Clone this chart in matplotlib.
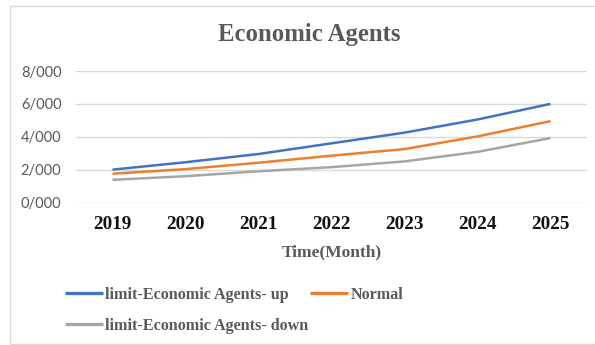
import matplotlib
matplotlib.use("Agg")
import matplotlib.pyplot as plt
from matplotlib.patches import Rectangle
from matplotlib.ticker import FuncFormatter

years = ["2019", "2020", "2021", "2022", "2023", "2024", "2025"]
limit_up = [2.00, 2.45, 2.95, 3.60, 4.25, 5.05, 6.00]
normal = [1.75, 2.03, 2.42, 2.85, 3.25, 4.02, 4.95]
limit_down = [1.38, 1.60, 1.90, 2.15, 2.50, 3.08, 3.92]
y_ticks = [0, 2, 4, 6, 8]

W, H = 595, 345
fig = plt.figure(figsize=(W / 100, H / 100), dpi=100)
fig.patch.set_facecolor("white")

# light chart-area border
fig.add_artist(Rectangle((10 / W, 1 - 344 / H), (W + 5 - 10) / W, (344 - 6) / H,
                         transform=fig.transFigure, fill=False,
                         edgecolor="#d9d9d9", linewidth=1.0))

ax = fig.add_axes([76 / W, 1 - 202.5 / H, (587 - 76) / W, (202.5 - 71) / H])
x = list(range(len(years)))
serif = "Liberation Serif"
grey_txt = "#595959"

l_up, = ax.plot(x, limit_up, color="#4472C4", lw=1.8, solid_capstyle="butt",
                label="limit-Economic Agents- up")
l_norm, = ax.plot(x, normal, color="#ED7D31", lw=1.8, solid_capstyle="butt",
                  label="Normal")
l_down, = ax.plot(x, limit_down, color="#A5A5A5", lw=1.8, solid_capstyle="butt",
                  label="limit-Economic Agents- down")

ax.set_xlim(-0.5, len(years) - 0.5)
ax.set_ylim(0, 8)
ax.set_yticks(y_ticks)
ax.yaxis.set_major_formatter(FuncFormatter(lambda v, p: f"{int(v)}/000"))
ax.set_xticks(x)
ax.set_xticklabels(years, fontfamily=serif, fontweight="bold", fontsize=13.8,
                   color="#111111")
ax.tick_params(axis="x", length=0, pad=9.5)
ax.tick_params(axis="y", length=0, pad=10.5, labelsize=10.5, labelcolor=grey_txt)
for lab in ax.get_yticklabels():
    lab.set_fontfamily("Lato")

ax.grid(axis="y", color="#d9d9d9", lw=1.0)
ax.set_axisbelow(True)
for s in ax.spines.values():
    s.set_visible(False)

ax.set_xlabel("Time(Month)", fontfamily=serif, fontweight="bold", fontsize=12.5,
              color=grey_txt, labelpad=8.5)

fig.text(309 / W, 1 - 35 / H, "Economic Agents", ha="center", va="center",
         fontfamily=serif, fontweight="bold", fontsize=17.8, color=grey_txt)

leg = fig.legend([l_up, l_down, l_norm],
                 [l_up.get_label(), l_down.get_label(), l_norm.get_label()],
                 loc="upper left", bbox_to_anchor=(65 / W, 1 - 287 / H), ncol=2,
                 frameon=False, borderpad=0, borderaxespad=0,
                 handlelength=2.35, handletextpad=0.15, columnspacing=0.1,
                 labelspacing=0.9,
                 prop={"family": serif, "weight": "bold", "size": 11.6})
for t in leg.get_texts():
    t.set_color(grey_txt)
for h in leg.legend_handles:
    h.set_linewidth(2.4)

fig.savefig("out.png", dpi=100, facecolor="white")
